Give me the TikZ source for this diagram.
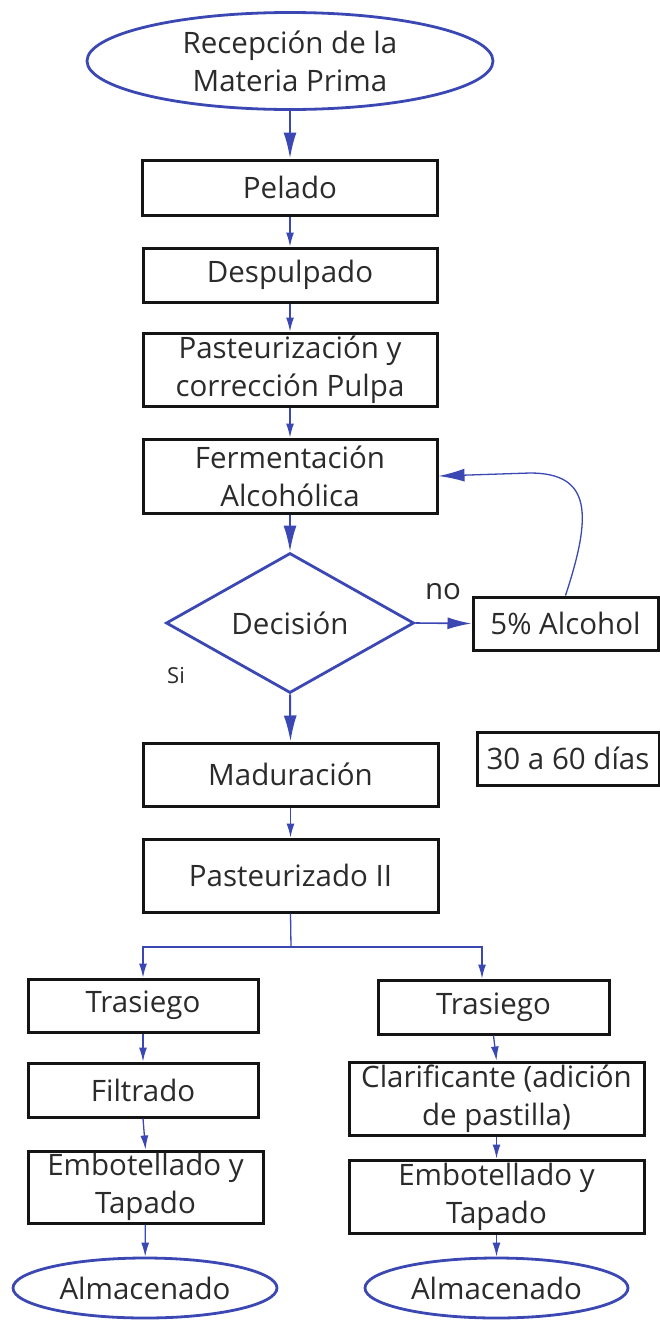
\documentclass[tikz,border=0pt]{standalone}
\usepackage{fontspec}
\setmainfont{Open Sans}
\usetikzlibrary{shapes.geometric,arrows.meta}
\definecolor{flowBlue}{HTML}{3B48B4}
\definecolor{inkGray}{HTML}{2B2B2B}

\begin{document}
\begin{tikzpicture}[x=1pt,y=-1pt,
    every node/.style={font=\fontsize{29.5}{38}\selectfont, text=inkGray, inner sep=0pt, align=center},
    procbox/.style={draw=black!92, line width=3pt, rectangle},
    termnode/.style={draw=flowBlue, line width=2.8pt, ellipse},
    decnode/.style={draw=flowBlue, line width=2.8pt, diamond},
    bigflow/.style={draw=flowBlue, line width=2pt, -{Latex[length=26pt,width=13pt]}},
    flow/.style={draw=flowBlue, line width=1.3pt, -{Latex[length=14pt,width=8pt]}},
    plainflow/.style={draw=flowBlue, line width=1.3pt}]
    \useasboundingbox (0,0) rectangle (660,1320);
    \fill[white] (0,0) rectangle (660,1320);

    % Main line
    \node[termnode, minimum width=406pt, minimum height=97pt] (recep) at (290,61) {Recepción de la\\Materia Prima};
    \node[procbox, minimum width=295pt, minimum height=55pt] (pelado) at (290,187.5) {Pelado};
    \node[procbox, minimum width=294pt, minimum height=54pt] (despulp) at (290,275) {Despulpado};
    \node[procbox, minimum width=294pt, minimum height=73pt] (pasteur) at (290,369.5) {Pasteurización y\\corrección Pulpa};
    \node[procbox, minimum width=294pt, minimum height=74pt] (ferment) at (290,476) {Fermentación\\Alcohólica};
    \node[decnode, minimum width=248pt, minimum height=140pt] (decision) at (290,623) {Decisión};
    \node[procbox, minimum width=185pt, minimum height=53pt] (alcohol) at (565.5,623.5) {5\% Alcohol};
    \node[procbox, minimum width=295pt, minimum height=63pt] (madur) at (290.5,774.5) {Maduración};
    \node[procbox, minimum width=182pt, minimum height=53pt] (dias) at (568,758.5) {30 a 60 días};
    \node[procbox, minimum width=295pt, minimum height=73pt] (pastII) at (290.5,875.5) {Pasteurizado II};

    % Labels
    \node (no) at (443,592) {no};
    \node[font=\fontsize{22}{26}\selectfont] (si) at (176,676) {Si};

    % Left branch
    \node[procbox, minimum width=230pt, minimum height=53pt] (trasL) at (143,1005.5) {Trasiego};
    \node[procbox, minimum width=230pt, minimum height=54pt] (filtL) at (143,1090) {Filtrado};
    \node[procbox, minimum width=235pt, minimum height=72pt] (embL) at (145.5,1187) {Embotellado y\\Tapado};
    \node[termnode, minimum width=264pt, minimum height=60pt] (almL) at (145,1288) {Almacenado};

    % Right branch
    \node[procbox, minimum width=231pt, minimum height=54pt] (trasR) at (493.5,1007) {Trasiego};
    \node[procbox, minimum width=295pt, minimum height=73pt] (clarR) at (496.5,1098.5) {Clarificante (adición\\de pastilla)};
    \node[procbox, minimum width=295pt, minimum height=73pt] (embR) at (496.5,1196.5) {Embotellado y\\Tapado};
    \node[termnode, minimum width=263pt, minimum height=60pt] (almR) at (496.5,1288) {Almacenado};

    % Arrows
    \draw[bigflow] (recep) -- (pelado);
    \draw[flow] (pelado) -- (despulp);
    \draw[flow] (despulp) -- (pasteur);
    \draw[flow] (pasteur) -- (ferment);
    \draw[bigflow] (ferment) -- (decision);
    \draw[flow, line width=1.6pt, -{Latex[length=24pt,width=12pt]}] (decision.east) -- (alcohol.west);
    \coordinate (loopTop) at (530,473);
    \draw[flow, -{Latex[length=26pt,width=13pt]}] (alcohol.north) .. controls (592,515) and (592,473) .. (loopTop) -- (ferment.east);
    \draw[bigflow] (decision.south) -- (madur.north);
    \draw[flow] (madur) -- (pastII);

    % Split
    \coordinate (split) at (291,947);
    \coordinate (splitR) at (482,947);
    \draw[plainflow] (pastII.south) -- (split);
    \draw[flow] (split) -| (trasL.north);
    \draw[flow] (split) -- (splitR) -- (splitR |- trasR.north);

    \draw[flow] (trasL) -- (filtL);
    \draw[flow] (filtL.south) -- (embL.north);
    \draw[flow] (embL) -- (almL);
    \draw[flow] (trasR.south) -- (clarR.north);
    \draw[flow] (clarR) -- (embR);
    \draw[flow] (embR) -- (almR);
\end{tikzpicture}
\end{document}
